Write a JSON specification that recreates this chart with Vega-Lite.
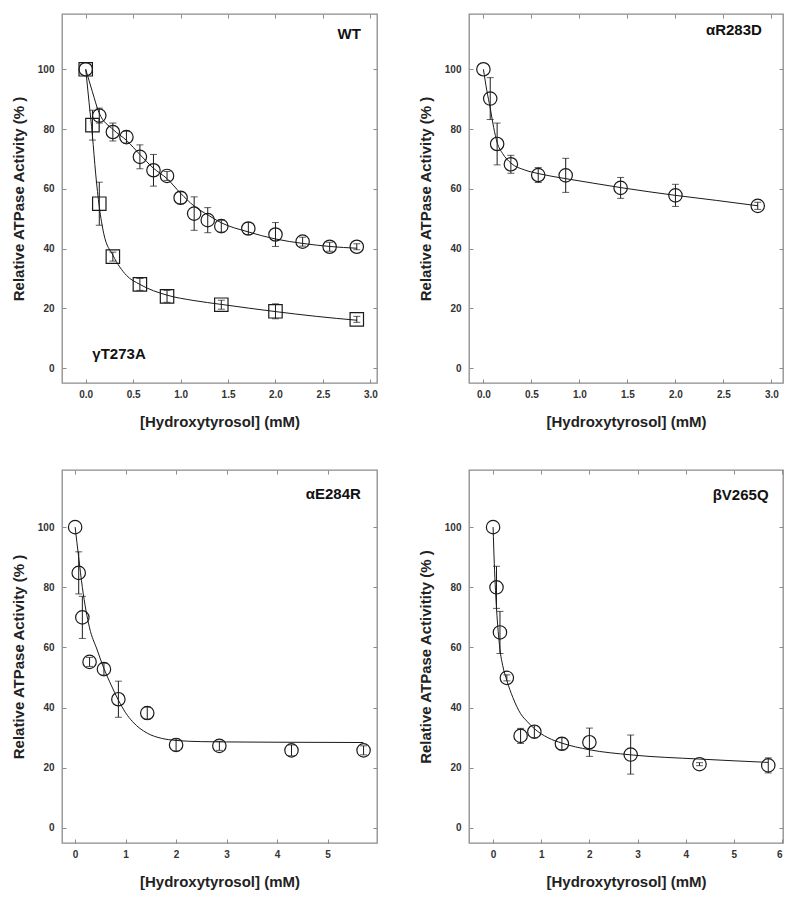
{
"$schema":"https://vega.github.io/schema/vega-lite/v6.json",
"background":"white",
"padding":{"left":10,"top":12,"right":5,"bottom":5},
"config":{
 "view":{"stroke":"#8c8c8c","strokeWidth":1.3},
 "font":"Liberation Sans",
 "axis":{"labelFont":"Liberation Sans","labelFontWeight":"bold","labelFontSize":10,"labelColor":"#333","titleFont":"Liberation Sans","titleFontWeight":"bold","titleFontSize":15,"titleColor":"#222","tickColor":"#8c8c8c","tickSize":-4,"domain":false,"grid":false,"labelPadding":10},
 "concat":{"spacing":38}
},
"datasets":{
 "labels":[{"panel":"WT","label":"WT"},{"panel":"γT273A","label":"γT273A"},{"panel":"αR283D","label":"αR283D"},{"panel":"αE284R","label":"αE284R"},{"panel":"βV265Q","label":"βV265Q"}],
 "pts":[
  {"panel":"WT","series":"WT","x":0,"y":100,"lo":null,"hi":null},
  {"panel":"WT","series":"WT","x":0.143,"y":84.5,"lo":82,"hi":87},
  {"panel":"WT","series":"WT","x":0.286,"y":79,"lo":76,"hi":82},
  {"panel":"WT","series":"WT","x":0.429,"y":77.3,"lo":75.3,"hi":79.3},
  {"panel":"WT","series":"WT","x":0.571,"y":70.7,"lo":66.7,"hi":74.7},
  {"panel":"WT","series":"WT","x":0.714,"y":66.2,"lo":60.9,"hi":71.5},
  {"panel":"WT","series":"WT","x":0.857,"y":64.3,"lo":62.8,"hi":65.8},
  {"panel":"WT","series":"WT","x":1.0,"y":57,"lo":55,"hi":59},
  {"panel":"WT","series":"WT","x":1.143,"y":51.7,"lo":46.1,"hi":57.3},
  {"panel":"WT","series":"WT","x":1.286,"y":49.5,"lo":45.3,"hi":53.7},
  {"panel":"WT","series":"WT","x":1.429,"y":47.5,"lo":45.5,"hi":49.5},
  {"panel":"WT","series":"WT","x":1.714,"y":46.7,"lo":44.7,"hi":48.7},
  {"panel":"WT","series":"WT","x":2.0,"y":44.7,"lo":40.7,"hi":48.7},
  {"panel":"WT","series":"WT","x":2.286,"y":42.3,"lo":40.8,"hi":43.8},
  {"panel":"WT","series":"WT","x":2.571,"y":40.6,"lo":39.1,"hi":42.1},
  {"panel":"WT","series":"WT","x":2.857,"y":40.6,"lo":39.6,"hi":41.6},
  {"panel":"WT","series":"γT273A","x":0,"y":100,"lo":null,"hi":null},
  {"panel":"WT","series":"γT273A","x":0.071,"y":81.3,"lo":76.3,"hi":86.3},
  {"panel":"WT","series":"γT273A","x":0.143,"y":55,"lo":47.8,"hi":62.2},
  {"panel":"WT","series":"γT273A","x":0.286,"y":37.3,"lo":35.8,"hi":38.8},
  {"panel":"WT","series":"γT273A","x":0.571,"y":28,"lo":26,"hi":30},
  {"panel":"WT","series":"γT273A","x":0.857,"y":24,"lo":22,"hi":26},
  {"panel":"WT","series":"γT273A","x":1.429,"y":21.2,"lo":19.7,"hi":22.7},
  {"panel":"WT","series":"γT273A","x":2.0,"y":19,"lo":16.5,"hi":21.5},
  {"panel":"WT","series":"γT273A","x":2.857,"y":16.3,"lo":15.3,"hi":17.3},
  {"panel":"αR283D","series":"αR283D","x":0,"y":100,"lo":null,"hi":null},
  {"panel":"αR283D","series":"αR283D","x":0.071,"y":90.2,"lo":83.2,"hi":97.2},
  {"panel":"αR283D","series":"αR283D","x":0.143,"y":75,"lo":68,"hi":82},
  {"panel":"αR283D","series":"αR283D","x":0.286,"y":68.2,"lo":65.2,"hi":71.2},
  {"panel":"αR283D","series":"αR283D","x":0.571,"y":64.6,"lo":62.1,"hi":67.1},
  {"panel":"αR283D","series":"αR283D","x":0.857,"y":64.5,"lo":58.8,"hi":70.2},
  {"panel":"αR283D","series":"αR283D","x":1.429,"y":60.3,"lo":56.8,"hi":63.8},
  {"panel":"αR283D","series":"αR283D","x":2.0,"y":57.8,"lo":54.1,"hi":61.5},
  {"panel":"αR283D","series":"αR283D","x":2.857,"y":54.3,"lo":53.1,"hi":55.5},
  {"panel":"αE284R","series":"αE284R","x":0,"y":100,"lo":null,"hi":null},
  {"panel":"αE284R","series":"αE284R","x":0.071,"y":84.8,"lo":77.8,"hi":91.8},
  {"panel":"αE284R","series":"αE284R","x":0.143,"y":70,"lo":63,"hi":77},
  {"panel":"αE284R","series":"αE284R","x":0.286,"y":55.2,"lo":53.7,"hi":56.7},
  {"panel":"αE284R","series":"αE284R","x":0.571,"y":52.8,"lo":50.8,"hi":54.8},
  {"panel":"αE284R","series":"αE284R","x":0.857,"y":42.8,"lo":36.8,"hi":48.8},
  {"panel":"αE284R","series":"αE284R","x":1.429,"y":38.2,"lo":36.2,"hi":40.2},
  {"panel":"αE284R","series":"αE284R","x":2.0,"y":27.6,"lo":25.6,"hi":29.6},
  {"panel":"αE284R","series":"αE284R","x":2.857,"y":27.3,"lo":25.8,"hi":28.8},
  {"panel":"αE284R","series":"αE284R","x":4.286,"y":25.8,"lo":24,"hi":27.6},
  {"panel":"αE284R","series":"αE284R","x":5.714,"y":25.8,"lo":24.3,"hi":27.3},
  {"panel":"βV265Q","series":"βV265Q","x":0,"y":100,"lo":null,"hi":null},
  {"panel":"βV265Q","series":"βV265Q","x":0.071,"y":80,"lo":73,"hi":87},
  {"panel":"βV265Q","series":"βV265Q","x":0.143,"y":65,"lo":58,"hi":72},
  {"panel":"βV265Q","series":"βV265Q","x":0.286,"y":49.9,"lo":48.9,"hi":50.9},
  {"panel":"βV265Q","series":"βV265Q","x":0.571,"y":30.6,"lo":28.1,"hi":33.1},
  {"panel":"βV265Q","series":"βV265Q","x":0.857,"y":32,"lo":30,"hi":34},
  {"panel":"βV265Q","series":"βV265Q","x":1.429,"y":28,"lo":26,"hi":30},
  {"panel":"βV265Q","series":"βV265Q","x":2.0,"y":28.5,"lo":23.8,"hi":33.2},
  {"panel":"βV265Q","series":"βV265Q","x":2.857,"y":24.4,"lo":17.9,"hi":30.9},
  {"panel":"βV265Q","series":"βV265Q","x":4.286,"y":21.2,"lo":20.7,"hi":21.7},
  {"panel":"βV265Q","series":"βV265Q","x":5.714,"y":20.8,"lo":18.3,"hi":23.3}
 ],
 "fit":[
  {"panel":"WT","series":"WT","x":0,"y":100},{"panel":"WT","series":"WT","x":0.07,"y":92.5},{"panel":"WT","series":"WT","x":0.14,"y":85.5},{"panel":"WT","series":"WT","x":0.29,"y":79.8},{"panel":"WT","series":"WT","x":0.43,"y":76.2},{"panel":"WT","series":"WT","x":0.57,"y":71.5},{"panel":"WT","series":"WT","x":0.71,"y":67},{"panel":"WT","series":"WT","x":0.86,"y":63.3},{"panel":"WT","series":"WT","x":1.0,"y":58.5},{"panel":"WT","series":"WT","x":1.14,"y":54.3},{"panel":"WT","series":"WT","x":1.29,"y":51.2},{"panel":"WT","series":"WT","x":1.43,"y":48.6},{"panel":"WT","series":"WT","x":1.71,"y":45.6},{"panel":"WT","series":"WT","x":2.0,"y":43.2},{"panel":"WT","series":"WT","x":2.29,"y":41.7},{"panel":"WT","series":"WT","x":2.57,"y":40.7},{"panel":"WT","series":"WT","x":2.86,"y":40.1},
  {"panel":"WT","series":"γT273A","x":0,"y":100},{"panel":"WT","series":"γT273A","x":0.035,"y":89},{"panel":"WT","series":"γT273A","x":0.07,"y":78},{"panel":"WT","series":"γT273A","x":0.105,"y":65},{"panel":"WT","series":"γT273A","x":0.143,"y":54},{"panel":"WT","series":"γT273A","x":0.19,"y":45},{"panel":"WT","series":"γT273A","x":0.286,"y":37.8},{"panel":"WT","series":"γT273A","x":0.43,"y":31},{"panel":"WT","series":"γT273A","x":0.571,"y":28},{"panel":"WT","series":"γT273A","x":0.857,"y":24.4},{"panel":"WT","series":"γT273A","x":1.14,"y":22.6},{"panel":"WT","series":"γT273A","x":1.43,"y":21.3},{"panel":"WT","series":"γT273A","x":2.0,"y":18.9},{"panel":"WT","series":"γT273A","x":2.43,"y":17.3},{"panel":"WT","series":"γT273A","x":2.86,"y":16},
  {"panel":"αR283D","series":"αR283D","x":0,"y":100},{"panel":"αR283D","series":"αR283D","x":0.035,"y":93},{"panel":"αR283D","series":"αR283D","x":0.071,"y":87},{"panel":"αR283D","series":"αR283D","x":0.107,"y":80.5},{"panel":"αR283D","series":"αR283D","x":0.143,"y":75.5},{"panel":"αR283D","series":"αR283D","x":0.2,"y":71.8},{"panel":"αR283D","series":"αR283D","x":0.286,"y":68.6},{"panel":"αR283D","series":"αR283D","x":0.43,"y":66.3},{"panel":"αR283D","series":"αR283D","x":0.571,"y":65.1},{"panel":"αR283D","series":"αR283D","x":0.857,"y":63.4},{"panel":"αR283D","series":"αR283D","x":1.14,"y":61.9},{"panel":"αR283D","series":"αR283D","x":1.43,"y":60.4},{"panel":"αR283D","series":"αR283D","x":2.0,"y":57.8},{"panel":"αR283D","series":"αR283D","x":2.43,"y":56.1},{"panel":"αR283D","series":"αR283D","x":2.86,"y":54.3},
  {"panel":"αE284R","series":"αE284R","x":0,"y":100},{"panel":"αE284R","series":"αE284R","x":0.07,"y":90},{"panel":"αE284R","series":"αE284R","x":0.143,"y":80},{"panel":"αE284R","series":"αE284R","x":0.286,"y":66.5},{"panel":"αE284R","series":"αE284R","x":0.43,"y":59.5},{"panel":"αE284R","series":"αE284R","x":0.571,"y":53},{"panel":"αE284R","series":"αE284R","x":0.714,"y":47.5},{"panel":"αE284R","series":"αE284R","x":0.857,"y":42.5},{"panel":"αE284R","series":"αE284R","x":1.0,"y":38.3},{"panel":"αE284R","series":"αE284R","x":1.14,"y":35.3},{"panel":"αE284R","series":"αE284R","x":1.43,"y":31.5},{"panel":"αE284R","series":"αE284R","x":1.71,"y":29.8},{"panel":"αE284R","series":"αE284R","x":2.0,"y":29.1},{"panel":"αE284R","series":"αE284R","x":2.5,"y":28.7},{"panel":"αE284R","series":"αE284R","x":3.0,"y":28.6},{"panel":"αE284R","series":"αE284R","x":4.0,"y":28.5},{"panel":"αE284R","series":"αE284R","x":5.71,"y":28.4},
  {"panel":"βV265Q","series":"βV265Q","x":0,"y":100},{"panel":"βV265Q","series":"βV265Q","x":0.025,"y":88},{"panel":"βV265Q","series":"βV265Q","x":0.05,"y":79},{"panel":"βV265Q","series":"βV265Q","x":0.1,"y":66.5},{"panel":"βV265Q","series":"βV265Q","x":0.15,"y":58.5},{"panel":"βV265Q","series":"βV265Q","x":0.2,"y":54},{"panel":"βV265Q","series":"βV265Q","x":0.286,"y":49},{"panel":"βV265Q","series":"βV265Q","x":0.41,"y":43.4},{"panel":"βV265Q","series":"βV265Q","x":0.571,"y":38},{"panel":"βV265Q","series":"βV265Q","x":0.714,"y":35.3},{"panel":"βV265Q","series":"βV265Q","x":0.857,"y":33},{"panel":"βV265Q","series":"βV265Q","x":1.14,"y":30},{"panel":"βV265Q","series":"βV265Q","x":1.43,"y":28.2},{"panel":"βV265Q","series":"βV265Q","x":2.0,"y":26},{"panel":"βV265Q","series":"βV265Q","x":2.86,"y":24.3},{"panel":"βV265Q","series":"βV265Q","x":4.29,"y":22.9},{"panel":"βV265Q","series":"βV265Q","x":5.71,"y":21.8}
 ]
},
"vconcat":[
 {"hconcat":[
  {"width":315,"height":369,
   "resolve":{"axis":{"x":"independent","y":"independent"}},
   "layer":[
    {"data":{"name":"fit"},"transform":[{"filter":"datum.panel==='WT'"}],
     "mark":{"type":"line","color":"#1a1a1a","strokeWidth":1,"interpolate":"monotone"},
     "encoding":{"x":{"field":"x","type":"quantitative","scale":{"domain":[-0.25,3.07],"nice":false,"zero":false},"axis":{"orient":"bottom","title":"[Hydroxytyrosol] (mM)","values":[0,0.5,1,1.5,2,2.5,3],"format":".1f","titlePadding":15}},
                 "y":{"field":"y","type":"quantitative","scale":{"domain":[-5,118.5],"nice":false,"zero":false},"axis":{"orient":"left","title":"Relative ATPase Activity (% )","values":[0,20,40,60,80,100],"titlePadding":11,"labelPadding":12}},
                 "detail":{"field":"series"}}},
    {"data":{"name":"pts"},"transform":[{"filter":"datum.panel==='WT' && datum.lo != null"}],
     "mark":{"type":"errorbar","color":"#1a1a1a","ticks":{"size":7},"thickness":1},
     "encoding":{"x":{"field":"x","type":"quantitative","axis":null},"y":{"field":"lo","type":"quantitative","axis":null},"y2":{"field":"hi"}}},
    {"data":{"name":"pts"},"transform":[{"filter":"datum.panel==='WT'"}],
     "mark":{"type":"point","filled":false,"size":180,"strokeWidth":1.2,"color":"#1a1a1a","opacity":1},
     "encoding":{"x":{"field":"x","type":"quantitative","axis":{"orient":"top","labels":false,"title":null,"values":[0,0.5,1,1.5,2,2.5,3]}},
                 "y":{"field":"y","type":"quantitative","axis":{"orient":"right","labels":false,"title":null,"values":[0,20,40,60,80,100]}},
                 "shape":{"field":"series","type":"nominal","scale":{"domain":["WT","γT273A","αR283D","αE284R","βV265Q"],"range":["circle","square","circle","circle","circle"]},"legend":null}}},
    {"data":{"name":"labels"},"transform":[{"filter":"datum.panel==='WT'"}],
     "mark":{"type":"text","align":"right","baseline":"alphabetic","fontSize":15,"fontWeight":"bold","color":"#111"},
     "encoding":{"x":{"datum":2.9,"type":"quantitative","axis":null},"y":{"datum":110,"type":"quantitative","axis":null},"text":{"field":"label"}}},
    {"data":{"name":"labels"},"transform":[{"filter":"datum.panel==='γT273A'"}],
     "mark":{"type":"text","align":"left","baseline":"alphabetic","fontSize":15,"fontWeight":"bold","color":"#111"},
     "encoding":{"x":{"datum":0.07,"type":"quantitative","axis":null},"y":{"datum":3,"type":"quantitative","axis":null},"text":{"field":"label"}}}
   ]},
  {"width":314,"height":369,
   "resolve":{"axis":{"x":"independent","y":"independent"}},
   "layer":[
    {"data":{"name":"fit"},"transform":[{"filter":"datum.panel==='αR283D'"}],
     "mark":{"type":"line","color":"#1a1a1a","strokeWidth":1,"interpolate":"monotone"},
     "encoding":{"x":{"field":"x","type":"quantitative","scale":{"domain":[-0.15,3.12],"nice":false,"zero":false},"axis":{"orient":"bottom","title":"[Hydroxytyrosol] (mM)","values":[0,0.5,1,1.5,2,2.5,3],"format":".1f","titlePadding":15}},
                 "y":{"field":"y","type":"quantitative","scale":{"domain":[-5,118.5],"nice":false,"zero":false},"axis":{"orient":"left","title":"Relative ATPase Activity (% )","values":[0,20,40,60,80,100],"titlePadding":11,"labelPadding":12}},
                 "detail":{"field":"series"}}},
    {"data":{"name":"pts"},"transform":[{"filter":"datum.panel==='αR283D' && datum.lo != null"}],
     "mark":{"type":"errorbar","color":"#1a1a1a","ticks":{"size":7},"thickness":1},
     "encoding":{"x":{"field":"x","type":"quantitative","axis":null},"y":{"field":"lo","type":"quantitative","axis":null},"y2":{"field":"hi"}}},
    {"data":{"name":"pts"},"transform":[{"filter":"datum.panel==='αR283D'"}],
     "mark":{"type":"point","filled":false,"size":180,"strokeWidth":1.2,"color":"#1a1a1a","opacity":1},
     "encoding":{"x":{"field":"x","type":"quantitative","axis":{"orient":"top","labels":false,"title":null,"values":[0,0.5,1,1.5,2,2.5,3]}},
                 "y":{"field":"y","type":"quantitative","axis":{"orient":"right","labels":false,"title":null,"values":[0,20,40,60,80,100]}},
                 "shape":{"field":"series","type":"nominal","scale":{"domain":["WT","γT273A","αR283D","αE284R","βV265Q"],"range":["circle","square","circle","circle","circle"]},"legend":null}}},
    {"data":{"name":"labels"},"transform":[{"filter":"datum.panel==='αR283D'"}],
     "mark":{"type":"text","align":"right","baseline":"alphabetic","fontSize":15,"fontWeight":"bold","color":"#111"},
     "encoding":{"x":{"datum":2.9,"type":"quantitative","axis":null},"y":{"datum":111.5,"type":"quantitative","axis":null},"text":{"field":"label"}}}
   ]}
 ]},
 {"hconcat":[
  {"width":315,"height":373,
   "resolve":{"axis":{"x":"independent","y":"independent"}},
   "layer":[
    {"data":{"name":"fit"},"transform":[{"filter":"datum.panel==='αE284R'"}],
     "mark":{"type":"line","color":"#1a1a1a","strokeWidth":1,"interpolate":"monotone"},
     "encoding":{"x":{"field":"x","type":"quantitative","scale":{"domain":[-0.26,5.98],"nice":false,"zero":false},"axis":{"orient":"bottom","title":"[Hydroxytyrosol] (mM)","values":[0,1,2,3,4,5],"format":"d","titlePadding":15}},
                 "y":{"field":"y","type":"quantitative","scale":{"domain":[-5,119],"nice":false,"zero":false},"axis":{"orient":"left","title":"Relative ATPase Activity (% )","values":[0,20,40,60,80,100],"titlePadding":11,"labelPadding":12}},
                 "detail":{"field":"series"}}},
    {"data":{"name":"pts"},"transform":[{"filter":"datum.panel==='αE284R' && datum.lo != null"}],
     "mark":{"type":"errorbar","color":"#1a1a1a","ticks":{"size":7},"thickness":1},
     "encoding":{"x":{"field":"x","type":"quantitative","axis":null},"y":{"field":"lo","type":"quantitative","axis":null},"y2":{"field":"hi"}}},
    {"data":{"name":"pts"},"transform":[{"filter":"datum.panel==='αE284R'"}],
     "mark":{"type":"point","filled":false,"size":180,"strokeWidth":1.2,"color":"#1a1a1a","opacity":1},
     "encoding":{"x":{"field":"x","type":"quantitative","axis":{"orient":"top","labels":false,"title":null,"values":[0,1,2,3,4,5]}},
                 "y":{"field":"y","type":"quantitative","axis":{"orient":"right","labels":false,"title":null,"values":[0,20,40,60,80,100]}},
                 "shape":{"field":"series","type":"nominal","scale":{"domain":["WT","γT273A","αR283D","αE284R","βV265Q"],"range":["circle","square","circle","circle","circle"]},"legend":null}}},
    {"data":{"name":"labels"},"transform":[{"filter":"datum.panel==='αE284R'"}],
     "mark":{"type":"text","align":"right","baseline":"alphabetic","fontSize":15,"fontWeight":"bold","color":"#111"},
     "encoding":{"x":{"datum":5.66,"type":"quantitative","axis":null},"y":{"datum":109.2,"type":"quantitative","axis":null},"text":{"field":"label"}}}
   ]},
  {"width":314,"height":373,
   "resolve":{"axis":{"x":"independent","y":"independent"}},
   "layer":[
    {"data":{"name":"fit"},"transform":[{"filter":"datum.panel==='βV265Q'"}],
     "mark":{"type":"line","color":"#1a1a1a","strokeWidth":1,"interpolate":"monotone"},
     "encoding":{"x":{"field":"x","type":"quantitative","scale":{"domain":[-0.5,6.02],"nice":false,"zero":false},"axis":{"orient":"bottom","title":"[Hydroxytyrosol] (mM)","values":[0,1,2,3,4,5,6],"format":"d","titlePadding":15}},
                 "y":{"field":"y","type":"quantitative","scale":{"domain":[-5,119],"nice":false,"zero":false},"axis":{"orient":"left","title":"Relative ATPase Activitity (% )","values":[0,20,40,60,80,100],"titlePadding":11,"labelPadding":12}},
                 "detail":{"field":"series"}}},
    {"data":{"name":"pts"},"transform":[{"filter":"datum.panel==='βV265Q' && datum.lo != null"}],
     "mark":{"type":"errorbar","color":"#1a1a1a","ticks":{"size":7},"thickness":1},
     "encoding":{"x":{"field":"x","type":"quantitative","axis":null},"y":{"field":"lo","type":"quantitative","axis":null},"y2":{"field":"hi"}}},
    {"data":{"name":"pts"},"transform":[{"filter":"datum.panel==='βV265Q'"}],
     "mark":{"type":"point","filled":false,"size":180,"strokeWidth":1.2,"color":"#1a1a1a","opacity":1},
     "encoding":{"x":{"field":"x","type":"quantitative","axis":{"orient":"top","labels":false,"title":null,"values":[0,1,2,3,4,5,6]}},
                 "y":{"field":"y","type":"quantitative","axis":{"orient":"right","labels":false,"title":null,"values":[0,20,40,60,80,100]}},
                 "shape":{"field":"series","type":"nominal","scale":{"domain":["WT","γT273A","αR283D","αE284R","βV265Q"],"range":["circle","square","circle","circle","circle"]},"legend":null}}},
    {"data":{"name":"labels"},"transform":[{"filter":"datum.panel==='βV265Q'"}],
     "mark":{"type":"text","align":"right","baseline":"alphabetic","fontSize":15,"fontWeight":"bold","color":"#111"},
     "encoding":{"x":{"datum":5.72,"type":"quantitative","axis":null},"y":{"datum":108.9,"type":"quantitative","axis":null},"text":{"field":"label"}}}
   ]}
 ]}
]
}
